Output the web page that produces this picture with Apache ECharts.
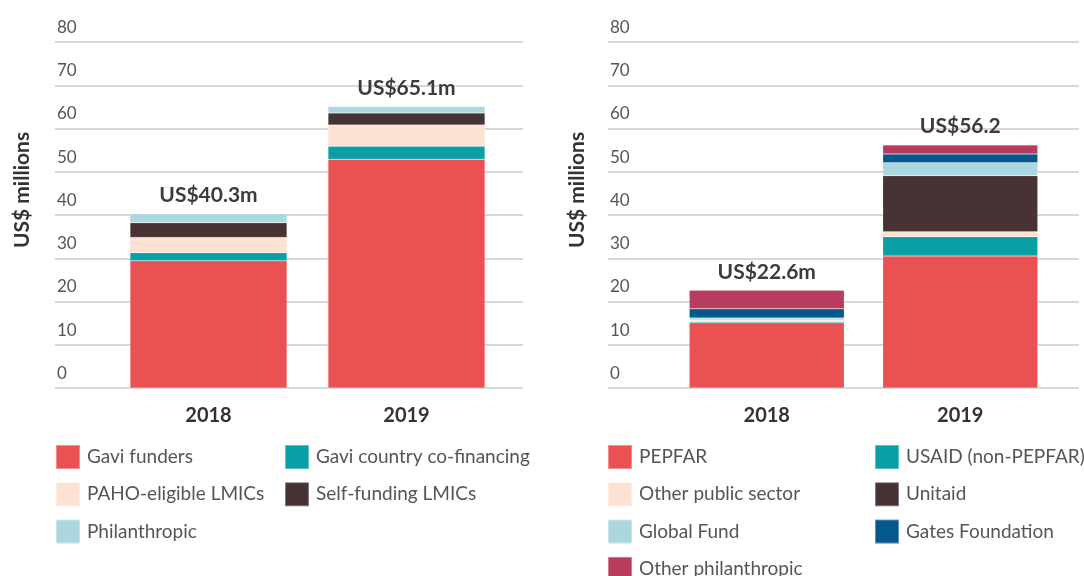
<!DOCTYPE html>
<html>
<head>
<meta charset="utf-8">
<script src="https://cdn.jsdelivr.net/npm/echarts@6/dist/echarts.min.js"></script>
<style>
  html, body { margin: 0; padding: 0; background: #fff; }
  #chart { width: 1084px; height: 576px; }
</style>
</head>
<body>
<div id="chart"></div>
<script>
// years on both panels
var years = ['2018', '2019'];
var yTicks = [0, 80, 10]; // min, max, step

// left panel - vaccine funding
var leftNames = ['Gavi funders', 'Gavi country co-financing', 'PAHO-eligible LMICs', 'Self-funding LMICs', 'Philanthropic'];
var leftColors = ['#E95153', '#0A9EA5', '#FDE1D2', '#473234', '#ABD8DF'];
var gaviFunders = [29.4, 52.9];
var gaviCofinancing = [1.9, 3.0];
var pahoLmics = [3.5, 4.9];
var selfFundingLmics = [3.4, 2.8];
var philanthropic = [2.1, 1.5];
var leftTotals = ['US$40.3m', 'US$65.1m'];

// right panel
var rightNames = ['PEPFAR', 'USAID (non-PEPFAR)', 'Other public sector', 'Unitaid', 'Global Fund', 'Gates Foundation', 'Other philanthropic'];
var rightColors = ['#E95153', '#0A9EA5', '#FDE1D2', '#473234', '#ABD8DF', '#03598E', '#B93B5D'];
var pepfar = [15.1, 30.5];
var usaid = [0.3, 4.5];
var otherPublic = [0.3, 1.1];
var unitaid = [0, 13.0];
var globalFund = [0.5, 3.0];
var gatesFoundation = [2.1, 2.0];
var otherPhilanthropic = [4.3, 2.1];
var rightTotals = ['US$22.6m', 'US$56.2'];

var leftData = [gaviFunders, gaviCofinancing, pahoLmics, selfFundingLmics, philanthropic];
var rightData = [pepfar, usaid, otherPublic, unitaid, globalFund, gatesFoundation, otherPhilanthropic];

var FONT = 'Lato, "Open Sans", sans-serif';
var GRID_TOP = 42, GRID_H = 346;
var LEG_TOP = 444, LEG_STEP = 37.3;

//网格线用的 y 轴
function gridY(idx) {
    return {
        type: 'value', gridIndex: idx, min: yTicks[0], max: yTicks[1], interval: yTicks[2],
        axisLine: {show: false}, axisTick: {show: false},
        splitLine: {lineStyle: {color: '#C6CDD4', width: 1.5}},
        axisLabel: {
            inside: true, margin: 2, verticalAlign: 'bottom', padding: [0, 0, 6, 0],
            color: '#555', fontSize: 17, fontFamily: FONT
        }
    };
}
function hiddenY(idx) {
    return {type: 'value', gridIndex: idx, min: yTicks[0], max: yTicks[1], show: false, splitLine: {show: false}};
}
function yearAxis(idx) {
    return {
        type: 'category', gridIndex: idx, data: years,
        axisLine: {show: false}, axisTick: {show: false},
        axisLabel: {margin: 18, color: '#333', fontSize: 20, fontWeight: 'bold', fontFamily: FONT}
    };
}

function buildSeries(names, colors, data, stack, axisIdx, barW, totals) {
    var out = [];
    for (var i = 0; i < names.length; i++) {
        var s = {
            type: 'bar', name: names[i], stack: stack,
            xAxisIndex: axisIdx, yAxisIndex: axisIdx,
            barWidth: barW, data: data[i],
            itemStyle: {color: colors[i], borderColor: 'rgba(255,255,255,0.35)', borderWidth: 0.5},
            emphasis: {disabled: true}
        };
        if (i === names.length - 1) {
            s.label = {
                show: true, position: 'top', distance: 8,
                color: '#3B3B3B', fontSize: 21, fontWeight: 'bold', fontFamily: FONT,
                formatter: function (p) { return totals[p.dataIndex]; }
            };
        }
        out.push(s);
    }
    return out;
}

// 图例: 每一行一个 legend, 位置手动排
function legendRow(left, row, name) {
    return {
        orient: 'horizontal', left: left, top: LEG_TOP + row * LEG_STEP, padding: 0,
        itemWidth: 24, itemHeight: 24,
        icon: 'rect', selectedMode: false, data: [name],
        textStyle: {color: '#555', fontSize: 19, lineHeight: 22, fontFamily: FONT, padding: [0, 0, 0, 2]}
    };
}

var legends = [];
for (var i = 0; i < leftNames.length; i++) {
    legends.push(legendRow(i % 2 ? 284 : 55, Math.floor(i / 2), leftNames[i]));
}
for (var j = 0; j < rightNames.length; j++) {
    legends.push(legendRow(j % 2 ? 874 : 607, Math.floor(j / 2), rightNames[j]));
}

var chart = echarts.init(document.getElementById('chart'));
var option = {
    animation: false,
    grid: [
        {left: 55, width: 468, top: GRID_TOP, height: GRID_H},
        {left: 109.5, width: 396, top: GRID_TOP, height: GRID_H},
        {left: 608, width: 471, top: GRID_TOP, height: GRID_H},
        {left: 670, width: 387, top: GRID_TOP, height: GRID_H}
    ],
    xAxis: [
        {type: 'value', gridIndex: 0, show: false, splitLine: {show: false}},
        yearAxis(1),
        {type: 'value', gridIndex: 2, show: false, splitLine: {show: false}},
        yearAxis(3)
    ],
    yAxis: [gridY(0), hiddenY(1), gridY(2), hiddenY(3)],
    legend: legends,
    graphic: [
        {type: 'text', x: 22, y: 190, rotation: Math.PI / 2,
            style: {text: 'US$ millions', fill: '#333', font: 'bold 21px ' + FONT, align: 'center', verticalAlign: 'middle'}},
        {type: 'text', x: 577, y: 190, rotation: Math.PI / 2,
            style: {text: 'US$ millions', fill: '#333', font: 'bold 21px ' + FONT, align: 'center', verticalAlign: 'middle'}}
    ],
    series: buildSeries(leftNames, leftColors, leftData, 'left', 1, 157, leftTotals)
        .concat(buildSeries(rightNames, rightColors, rightData, 'right', 3, 155, rightTotals))
};
chart.setOption(option);
</script>
</body>
</html>
